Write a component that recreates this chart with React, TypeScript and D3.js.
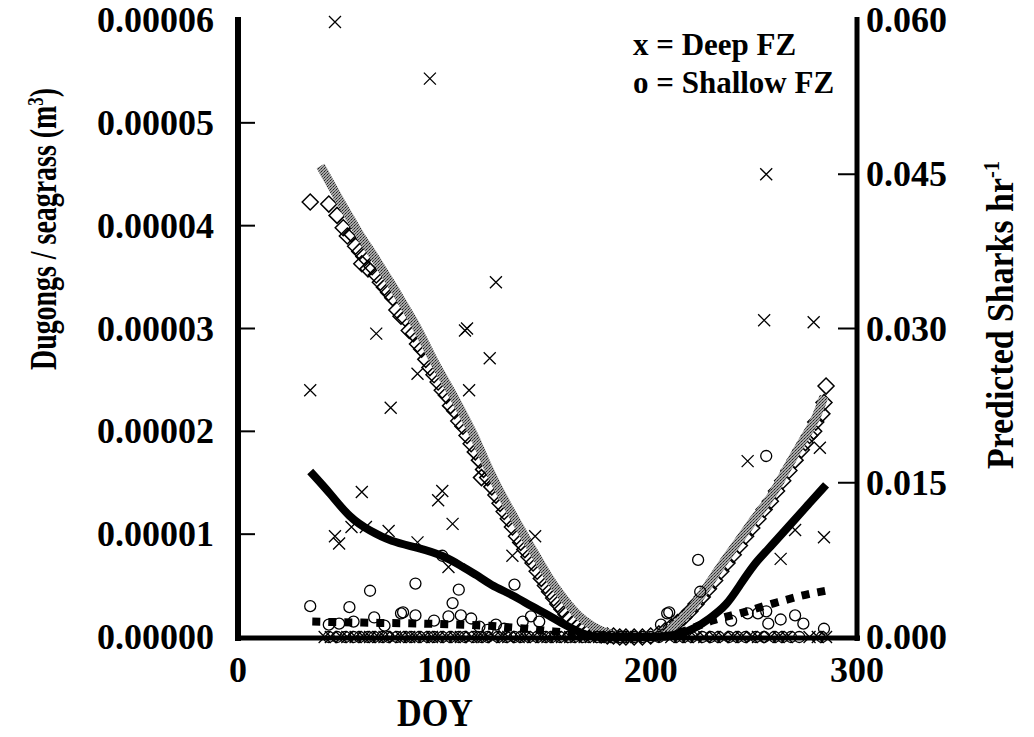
import React from 'react';
import * as d3 from 'd3';

const W = 1034;
const H = 737;

// Deep FZ (x markers): DOY and Dugongs / seagrass (m^3)
const deepDoy = [47, 93, 35, 67, 74, 87, 110, 111, 112, 122, 125, 256, 255, 279, 282, 247, 270, 284, 263, 60, 99, 97, 104, 55, 62, 73, 47, 49, 87, 133, 102, 144];
const deepVal = [5.98e-5, 5.43e-5, 2.40e-5, 2.95e-5, 2.23e-5, 2.56e-5, 2.98e-5, 3.0e-5, 2.40e-5, 2.71e-5, 3.45e-5, 4.50e-5, 3.08e-5, 3.06e-5, 1.84e-5, 1.71e-5, 1.04e-5, 0.97e-5, 0.76e-5, 1.41e-5, 1.42e-5, 1.33e-5, 1.10e-5, 1.07e-5, 1.07e-5, 1.03e-5, 0.98e-5, 0.91e-5, 0.92e-5, 0.79e-5, 0.68e-5, 0.98e-5];
// Deep FZ zero observations
const deepZeroDoy = [42, 45, 50, 53, 57, 61, 64, 68, 71, 76, 79, 83, 86, 90, 94, 97, 101, 105, 108, 113, 116, 119, 124, 128, 131, 136, 139, 143, 147, 150, 154, 157, 161, 164, 168, 171, 175, 178, 182, 186, 189, 193, 210, 214, 218, 222, 226, 231, 235, 240, 244, 249, 252, 258, 262, 266, 277, 281, 285];

// Shallow FZ (o markers)
const shallowDoy = [35, 64, 86, 107, 54, 104, 66, 79, 86, 102, 108, 113, 44, 49, 80, 121, 134, 125, 138, 129, 142, 146, 99, 208, 205, 209, 224, 223, 256, 239, 247, 252, 256, 257, 263, 270, 274, 284, 56, 95, 117, 71];
const shallowVal = [0.30e-5, 0.45e-5, 0.52e-5, 0.46e-5, 0.29e-5, 0.33e-5, 0.19e-5, 0.23e-5, 0.21e-5, 0.20e-5, 0.21e-5, 0.18e-5, 0.12e-5, 0.13e-5, 0.24e-5, 0.07e-5, 0.51e-5, 0.12e-5, 0.15e-5, 0.08e-5, 0.20e-5, 0.15e-5, 0.79e-5, 0.23e-5, 0.12e-5, 0.24e-5, 0.44e-5, 0.75e-5, 1.76e-5, 0.16e-5, 0.23e-5, 0.23e-5, 0.25e-5, 0.13e-5, 0.17e-5, 0.21e-5, 0.13e-5, 0.08e-5, 0.15e-5, 0.16e-5, 0.10e-5, 0.11e-5];
const shallowZeroDoy = [44, 48, 52, 56, 59, 63, 66, 70, 73, 77, 81, 84, 88, 92, 95, 99, 103, 107, 110, 114, 118, 121, 126, 130, 134, 137, 141, 145, 149, 152, 156, 160, 163, 167, 170, 174, 177, 181, 185, 188, 192, 196, 200, 204, 212, 216, 220, 225, 229, 233, 238, 242, 246, 251, 255, 260, 264, 268, 272, 283];

// Diamonds (predicted dugongs / seagrass)
const diamondDoy = [35, 44, 48, 51, 53, 55, 57, 59, 60, 61, 63, 65, 67, 69, 71, 73, 75, 77, 79, 81, 83, 85, 87, 89, 91, 93, 95, 97, 99, 101, 103, 105, 107, 109, 111, 113, 115, 117, 118, 119, 121, 123, 125, 127, 129, 131, 133, 135, 137, 139, 141, 143, 145, 147, 149, 151, 153, 155, 157, 159, 161, 163, 165, 167, 170, 173, 176, 179, 182, 185, 188, 192, 196, 200, 204, 207, 210, 213, 216, 219, 222, 225, 228, 231, 234, 237, 240, 243, 246, 249, 252, 255, 258, 261, 264, 267, 270, 273, 275, 277, 279, 280, 283, 284, 285];
const diamondVal = [4.23e-5, 4.21e-5, 4.10e-5, 3.98e-5, 3.90e-5, 3.92e-5, 3.80e-5, 3.75e-5, 3.63e-5, 3.70e-5, 3.58e-5, 3.60e-5, 3.52e-5, 3.45e-5, 3.40e-5, 3.35e-5, 3.30e-5, 3.18e-5, 3.12e-5, 3.10e-5, 2.98e-5, 2.95e-5, 2.85e-5, 2.80e-5, 2.70e-5, 2.62e-5, 2.55e-5, 2.48e-5, 2.40e-5, 2.35e-5, 2.25e-5, 2.20e-5, 2.10e-5, 2.05e-5, 1.96e-5, 1.88e-5, 1.80e-5, 1.72e-5, 1.55e-5, 1.63e-5, 1.55e-5, 1.46e-5, 1.38e-5, 1.30e-5, 1.22e-5, 1.15e-5, 1.07e-5, 0.98e-5, 0.92e-5, 0.85e-5, 0.78e-5, 0.72e-5, 0.64e-5, 0.57e-5, 0.50e-5, 0.44e-5, 0.38e-5, 0.32e-5, 0.27e-5, 0.22e-5, 0.18e-5, 0.14e-5, 0.11e-5, 0.08e-5, 0.06e-5, 0.04e-5, 0.02e-5, 0.01e-5, 0.01e-5, 0, 0, 0, 0, 0.01e-5, 0.03e-5, 0.06e-5, 0.10e-5, 0.14e-5, 0.19e-5, 0.25e-5, 0.32e-5, 0.39e-5, 0.47e-5, 0.55e-5, 0.64e-5, 0.72e-5, 0.80e-5, 0.89e-5, 0.98e-5, 1.06e-5, 1.15e-5, 1.24e-5, 1.32e-5, 1.42e-5, 1.52e-5, 1.62e-5, 1.72e-5, 1.82e-5, 1.89e-5, 1.96e-5, 2.00e-5, 2.09e-5, 2.17e-5, 2.28e-5, 2.44e-5];

// Gray fitted curve (left axis)
const grayDoy = [40, 45, 50, 55, 60, 65, 70, 75, 80, 85, 90, 95, 100, 105, 110, 115, 120, 125, 130, 135, 140, 145, 150, 155, 160, 165, 170, 175, 180, 185, 190, 195, 200, 205, 210, 215, 220, 225, 230, 235, 240, 245, 250, 255, 260, 265, 270, 275, 280, 284];
const grayVal = [4.58e-5, 4.40e-5, 4.22e-5, 4.05e-5, 3.88e-5, 3.73e-5, 3.57e-5, 3.41e-5, 3.24e-5, 3.07e-5, 2.88e-5, 2.68e-5, 2.50e-5, 2.32e-5, 2.13e-5, 1.93e-5, 1.70e-5, 1.49e-5, 1.30e-5, 1.12e-5, 0.94e-5, 0.77e-5, 0.60e-5, 0.45e-5, 0.32e-5, 0.21e-5, 0.13e-5, 0.07e-5, 0.03e-5, 0.01e-5, 0, 0, 0.01e-5, 0.04e-5, 0.09e-5, 0.17e-5, 0.28e-5, 0.42e-5, 0.57e-5, 0.72e-5, 0.86e-5, 1.00e-5, 1.14e-5, 1.27e-5, 1.42e-5, 1.60e-5, 1.78e-5, 1.95e-5, 2.13e-5, 2.34e-5];

// Predicted sharks per hour (right axis), solid black
const sharkDoy = [35, 45, 54, 64, 74, 87, 100, 109, 116, 122, 134, 142, 150, 158, 166, 171, 180, 195, 205, 215, 221, 228, 237, 243, 251, 255, 268, 276, 285];
const sharkVal = [0.0161, 0.0139, 0.0116, 0.0103, 0.0093, 0.0087, 0.0079, 0.0068, 0.0060, 0.0051, 0.0040, 0.0030, 0.0022, 0.0012, 0.0004, 0, 0, 0, 0, 0.0003, 0.0008, 0.0017, 0.0031, 0.0050, 0.0073, 0.0081, 0.0110, 0.0128, 0.0148];

// Dotted black curve (right axis)
const dotDoy = [36, 60, 90, 120, 140, 160, 175, 190, 205, 215, 230, 245, 260, 275, 285];
const dotVal = [0.0015, 0.0014, 0.0013, 0.0011, 0.0008, 0.0004, 0.0001, 0, 0, 0.0005, 0.0016, 0.0024, 0.0033, 0.0041, 0.0045];

const xTicks = [0, 100, 200, 300];
const yLeftTicks = [0, 1e-5, 2e-5, 3e-5, 4e-5, 5e-5, 6e-5];
const yRightTicks = [0, 0.015, 0.03, 0.045, 0.06];

const FONT = '"Liberation Serif", "Times New Roman", Times, serif';

export default function App() {
  const x = d3.scaleLinear().domain([0, 300]).range([238, 857]);
  const yL = d3.scaleLinear().domain([0, 6e-5]).range([637, 20]);
  const yR = d3.scaleLinear().domain([0, 0.06]).range([637, 20]);

  const grayLine = d3.line<number>().x((d, i) => x(grayDoy[i])).y((d) => yL(d)).curve(d3.curveMonotoneX);
  const sharkLine = d3.line<number>().x((d, i) => x(sharkDoy[i])).y((d) => yR(d)).curve(d3.curveBasis);
  const dotLine = d3.line<number>().x((d, i) => x(dotDoy[i])).y((d) => yR(d)).curve(d3.curveMonotoneX);

  const cross = 'M-6,-6L6,6M-6,6L6,-6';
  const diamond = 'M0,-8L8,0L0,8L-8,0Z';

  return (
    <svg width={W} height={H} style={{ position: 'absolute', left: 0, top: 0, background: '#fff' }} fontFamily={FONT}>
      <defs>
        <pattern id="ht" width="3" height="3" patternUnits="userSpaceOnUse">
          <rect width="3" height="3" fill="#a8a8a8" />
          <rect x="0" y="0" width="1" height="1" fill="#222" />
          <rect x="2" y="1" width="1" height="1" fill="#555" />
          <rect x="1" y="2" width="1" height="1" fill="#444" />
        </pattern>
      </defs>
      <rect width={W} height={H} fill="#fff" />

      {/* diamonds */}
      <g fill="none" stroke="#000" strokeWidth={1.5}>
        {diamondVal.map((v, i) => (
          <path key={'d' + i} d={diamond} transform={`translate(${x(diamondDoy[i])},${yL(v)})`} />
        ))}
      </g>

      {/* gray fitted line */}
      <path d={grayLine(grayVal) || ''} fill="none" stroke="url(#ht)" strokeWidth={9} strokeLinecap="butt" />

      {/* shallow circles */}
      <g fill="none" stroke="#000" strokeWidth={1.3}>
        {shallowVal.map((v, i) => (
          <circle key={'s' + i} cx={x(shallowDoy[i])} cy={yL(v)} r={5.5} />
        ))}
        {shallowZeroDoy.map((d, i) => (
          <circle key={'sz' + i} cx={x(d)} cy={yL(0)} r={5.5} />
        ))}
      </g>

      {/* deep crosses */}
      <g fill="none" stroke="#000" strokeWidth={1.3}>
        {deepVal.map((v, i) => (
          <path key={'x' + i} d={cross} transform={`translate(${x(deepDoy[i])},${yL(v)})`} />
        ))}
        {deepZeroDoy.map((d, i) => (
          <path key={'xz' + i} d={cross} transform={`translate(${x(d)},${yL(0)})`} />
        ))}
      </g>

      {/* dotted line */}
      <path d={dotLine(dotVal) || ''} fill="none" stroke="#000" strokeWidth={8} strokeDasharray="8,8" />
      {/* sharks line */}
      <path d={sharkLine(sharkVal) || ''} fill="none" stroke="#000" strokeWidth={8} />

      {/* axes */}
      <line x1={238} x2={238} y1={17} y2={641} stroke="#000" strokeWidth={6} />
      <line x1={857} x2={857} y1={17} y2={641} stroke="#000" strokeWidth={5} />
      <line x1={235} x2={860} y1={638} y2={638} stroke="#000" strokeWidth={5} />
      {yLeftTicks.slice(1, -1).map((t) => (
        <line key={'lt' + t} x1={238} x2={255} y1={yL(t)} y2={yL(t)} stroke="#000" strokeWidth={2} />
      ))}
      {yRightTicks.slice(1, -1).map((t) => (
        <line key={'rt' + t} x1={838} x2={857} y1={yR(t)} y2={yR(t)} stroke="#000" strokeWidth={2} />
      ))}

      {/* tick labels */}
      <g fontWeight="bold" fontSize={36} fill="#000">
        {yLeftTicks.map((t) => (
          <text key={'ll' + t} x={214} y={yL(t)} textAnchor="end" dominantBaseline="central">{t.toFixed(5)}</text>
        ))}
        {yRightTicks.map((t) => (
          <text key={'rl' + t} x={866} y={yR(t)} textAnchor="start" dominantBaseline="central">{t.toFixed(3)}</text>
        ))}
        {xTicks.map((t) => (
          <text key={'xl' + t} x={x(t)} y={682} textAnchor="middle">{t}</text>
        ))}
      </g>

      {/* axis titles */}
      <text x={435} y={726} textAnchor="middle" fontWeight="bold" fontSize={40} textLength={76} lengthAdjust="spacingAndGlyphs">DOY</text>
      <text transform="translate(56,229) rotate(-90)" textAnchor="middle" fontWeight="bold" fontSize={38} textLength={282} lengthAdjust="spacingAndGlyphs">
        Dugongs / seagrass (m<tspan dy={-13} fontSize={23}>3</tspan><tspan dy={13}>)</tspan>
      </text>
      <text transform="translate(1013,315) rotate(-90)" textAnchor="middle" fontWeight="bold" fontSize={38} textLength={308} lengthAdjust="spacingAndGlyphs">
        Predicted Sharks hr<tspan dy={-14} fontSize={23}>-1</tspan>
      </text>

      {/* legend */}
      <g fontWeight="bold" fontSize={31}>
        <text x={633} y={55}>x = Deep FZ</text>
        <text x={633} y={93}>o = Shallow FZ</text>
      </g>
    </svg>
  );
}
